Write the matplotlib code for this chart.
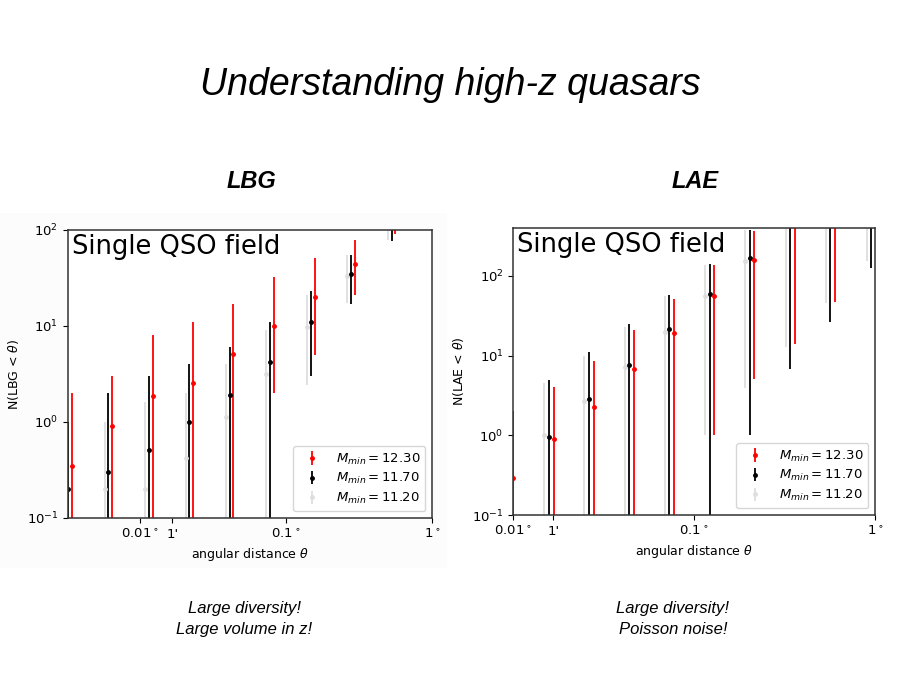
import numpy as np
import matplotlib
matplotlib.use('Agg')
import matplotlib.pyplot as plt
from matplotlib.patches import Rectangle
from matplotlib.ticker import NullLocator

# LBG panel: bin centres (degrees) and N(<theta) with lower/upper bounds
theta_lbg = [0.00323, 0.00606, 0.0115, 0.0218, 0.0411, 0.0776, 0.148, 0.279, 0.530]
lbg_red = [0.35, 0.91, 1.87, 2.57, 5.15, 10.1, 19.9, 44.6, 120]
lbg_red_lo = [0, 0, 0, 0, 0, 2.0, 5.0, 21, 91]
lbg_red_hi = [2.0, 3.0, 8.0, 11.0, 17.0, 32, 51, 78, 180]
lbg_black = [0.2, 0.30, 0.515, 1.0, 1.9, 4.25, 11.1, 34.8, 110]
lbg_black_lo = [0, 0, 0, 0, 0, 0, 3.0, 17, 77]
lbg_black_hi = [1.0, 2.0, 3.0, 4.0, 6.0, 11.0, 23, 55, 160]
lbg_gray = [0.1, 0.2, 0.2, 0.42, 1.13, 3.16, 9.8, 33, 105]
lbg_gray_lo = [0, 0, 0, 0, 0, 0, 2.4, 17.5, 79]
lbg_gray_hi = [1.0, 1.0, 1.6, 2.0, 4.0, 9.1, 21, 55, 150]

# LAE panel
theta_lae = [0.00943, 0.01577, 0.02624, 0.04385, 0.0730, 0.1222, 0.2033, 0.3396, 0.5664, 0.956]
lae_red = [0.29, 0.9, 2.25, 6.7, 19.3, 55, 156, 460, 1300, 3600]
lae_red_lo = [0, 0, 0, 0, 0, 1.0, 5.1, 14, 47, 140]
lae_red_hi = [2.0, 4.0, 8.5, 20.6, 51, 136, 362, 900, 2200, 6000]
lae_black = [np.nan, 0.94, 2.82, 7.7, 21.2, 58.7, 165, 460, 1290, 3600]
lae_black_lo = [np.nan, 0, 0, 0, 0, 0, 1.0, 6.7, 26.4, 124]
lae_black_hi = [np.nan, 5.0, 11, 25, 57, 142, 372, 950, 2300, 6000]
lae_gray = [np.nan, 1.0, 2.7, 7.2, 20, 55.5, 152, 450, 1250, 3500]
lae_gray_lo = [np.nan, 0, 0, 0, 0, 1.0, 3.9, 12.9, 46, 154]
lae_gray_hi = [np.nan, 4.5, 9.8, 22.7, 55.5, 136, 370, 900, 2200, 6000]

mmin_labels = ['$M_{min} = 12.30$', '$M_{min} = 11.70$', '$M_{min} = 11.20$']
tick_pos = [0.01, 1 / 60, 0.1, 1]
tick_labels = ['0.01$^\\circ$', "1'", '0.1$^\\circ$', '1$^\\circ$']

narrow = ['Liberation Sans', 'DejaVu Sans']
dodge = 1.06


def errbar(ax, x, val, lo, hi, color, label, shift):
    x = np.array(x) * shift
    val = np.array(val, dtype=float)
    lo = np.maximum(np.array(lo, dtype=float), 1e-4)
    hi = np.array(hi, dtype=float)
    return ax.errorbar(x, val, yerr=[val - lo, hi - val], fmt='.', color=color,
                       ecolor=color, elinewidth=1.3, markersize=5, label=label)


def panel(ax, theta, data, ylabel, xlim, ylim):
    (gv, glo, ghi), (bv, blo, bhi), (rv, rlo, rhi) = data
    h_gray = errbar(ax, theta, gv, glo, ghi, '#dedede', mmin_labels[2], 1 / dodge)
    h_black = errbar(ax, theta, bv, blo, bhi, 'black', mmin_labels[1], 1)
    h_red = errbar(ax, theta, rv, rlo, rhi, 'red', mmin_labels[0], dodge)
    ax.set_xscale('log')
    ax.set_yscale('log')
    ax.set_xlim(*xlim)
    ax.set_ylim(*ylim)
    ax.set_xticks(tick_pos)
    ax.set_xticklabels(tick_labels)
    ax.xaxis.set_minor_locator(NullLocator())
    ax.yaxis.set_minor_locator(NullLocator())
    ax.tick_params(labelsize=9.5)
    ax.set_xlabel('angular distance $\\theta$', fontsize=9)
    ax.set_ylabel(ylabel, fontsize=9)
    for sp in ax.spines.values():
        sp.set_color('#333333')
        sp.set_linewidth(1.1)
    ax.text(0.01, 0.985, 'Single QSO field', transform=ax.transAxes,
            va='top', ha='left', fontsize=18.5)
    ax.legend([h_red, h_black, h_gray], mmin_labels, loc='lower right',
              fontsize=9.5, labelspacing=0.35)


fig = plt.figure(figsize=(9, 6.75), dpi=100)
fig.patches.append(Rectangle((0, 0.1585), 0.4967, 0.526, transform=fig.transFigure,
                             facecolor='#fcfcfc', edgecolor='none', zorder=-5))

ax1 = fig.add_axes([0.0756, 0.2326, 0.4044, 0.4267])
panel(ax1, theta_lbg,
      [(lbg_gray, lbg_gray_lo, lbg_gray_hi),
       (lbg_black, lbg_black_lo, lbg_black_hi),
       (lbg_red, lbg_red_lo, lbg_red_hi)],
      'N(LBG < $\\theta$)', (0.00321, 1), (0.1, 100))

ax2 = fig.add_axes([0.5703, 0.237, 0.4019, 0.4256])
panel(ax2, theta_lae,
      [(lae_gray, lae_gray_lo, lae_gray_hi),
       (lae_black, lae_black_lo, lae_black_hi),
       (lae_red, lae_red_lo, lae_red_hi)],
      'N(LAE < $\\theta$)', (0.01, 1), (0.1, 400))

# slide text
fig.text(0.5, 1 - 85 / 675, 'Understanding high-z quasars', ha='center', va='center',
         fontsize=27, style='italic', family=narrow)
fig.text(251 / 900, 1 - 182 / 675, 'LBG', ha='center', va='center', fontsize=17,
         style='italic', weight='bold', family=narrow)
fig.text(695 / 900, 1 - 182 / 675, 'LAE', ha='center', va='center', fontsize=17,
         style='italic', weight='bold', family=narrow)
fig.text(244 / 900, 1 - 619 / 675, 'Large diversity!\nLarge volume in z!', ha='center',
         va='center', fontsize=12, style='italic', family=narrow, linespacing=1.55)
fig.text(673 / 900, 1 - 619 / 675, 'Large diversity!\nPoisson noise!', ha='center',
         va='center', fontsize=12, style='italic', family=narrow, linespacing=1.55)

fig.savefig('out.png', dpi=100)
